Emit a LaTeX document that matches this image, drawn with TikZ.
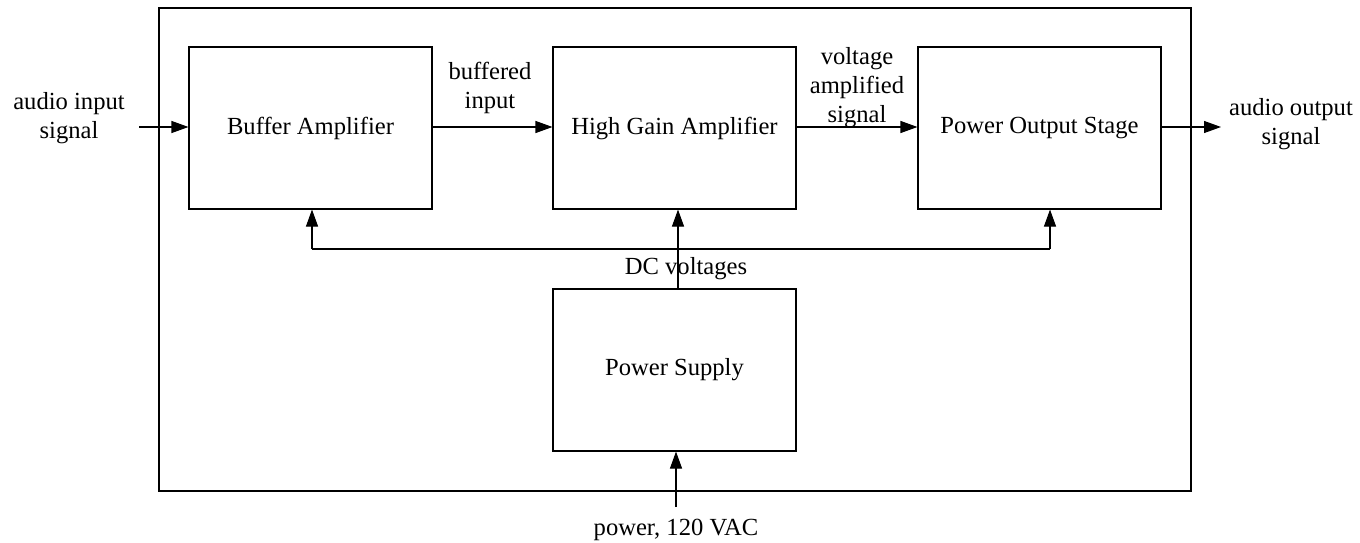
\documentclass[tikz,border=0pt]{standalone}
\usepackage{fontspec}
\setmainfont{Liberation Serif}
\usetikzlibrary{arrows.meta,calc}
\begin{document}
\begin{tikzpicture}[x=1pt,y=-1pt,
  blk/.style={draw, line width=1.1pt, minimum width=243pt, minimum height=162pt, inner sep=0pt, font=\fontsize{24.6}{30}\selectfont},
  lbl/.style={align=center, inner sep=0pt, font=\fontsize{24.6}{29}\selectfont},
  arr/.style={line width=1.1pt, -{Triangle[length=17pt,width=12pt]}},
  ln/.style={line width=1.1pt}]
\useasboundingbox (0,0) rectangle (1360,543);
\draw[ln] (159,8) rectangle (1191,491);
\node[blk] (buf) at (310.5,128) {Buffer Amplifier};
\node[blk] (hga) at (674.5,128) {High Gain Amplifier};
\node[blk] (pos) at (1039.5,128) {Power Output Stage};
\node[blk] (ps) at (674.5,370) {Power Supply};
% signal path
\coordinate (inS) at (139,127);
\coordinate (outE) at (1221,127);
\draw[arr] (inS) -- (inS -| buf.west);
\draw[arr] (buf.east |- 0,127) -- (hga.west |- 0,127);
\draw[arr] (hga.east |- 0,127) -- (pos.west |- 0,127);
\draw[arr] (pos.east |- 0,127) -- (outE);
\node[lbl] (inL) at (69,118) {audio input\\signal};
\node[lbl] (bufL) at (490,88) {buffered\\input};
\node[lbl] (vasL) at (857,88) {voltage\\amplified\\signal};
\node[lbl] (outL) at (1291,124) {audio output\\signal};
% DC bus
\coordinate (bl) at (312,249);
\coordinate (br) at (1050,249);
\draw[ln] (bl) -- (br);
\draw[arr] (bl) -- (bl |- buf.south);
\draw[arr] (br) -- (br |- pos.south);
\draw[arr] (ps.north -| 678,0) -- (hga.south -| 678,0);
\node[lbl] (dcL) at (686,269) {DC voltages};
% mains
\coordinate (pw) at (676,507);
\draw[arr] (pw) -- (pw |- ps.south);
\node[lbl] (pwL) at (676,530) {power, 120 VAC};
\end{tikzpicture}
\end{document}
